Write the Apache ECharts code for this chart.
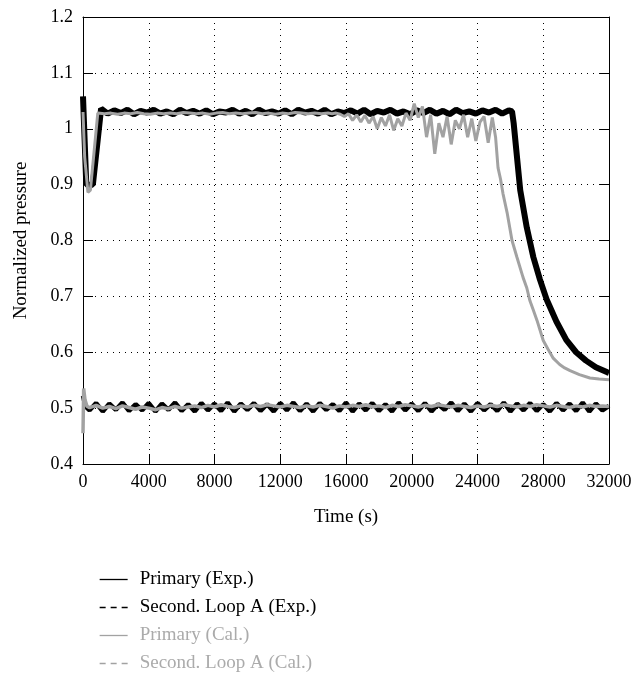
<!DOCTYPE html>
<html>
<head>
<meta charset="utf-8">
<script src="https://cdn.jsdelivr.net/npm/echarts@6/dist/echarts.min.js"></script>
<style>
html,body{margin:0;padding:0;background:#fff;}
#chart{width:643px;height:673px;}
</style>
</head>
<body>
<div id="chart"></div>
<script>
// ---- data ----
var seriesNames = ['Primary (Exp.)', 'Second. Loop A (Exp.)', 'Primary (Cal.)', 'Second. Loop A (Cal.)'];

var primExpT = [0, 200, 600, 1100,
  1500,1900,2300,2700,3100,3500,3900,4300,4700,5100,5500,5900,6300,6700,7100,7500,7900,8300,8700,9100,9500,9900,10300,10700,11100,11500,11900,12300,12700,13100,13500,13900,14300,14700,15100,15500,15900,16300,16700,17100,17500,17900,18300,18700,19100,19500,19900,20300,20700,21100,21500,21900,22300,22700,23100,23500,23900,24300,24700,25100,25500,25900,
  26100,26200,26600,27000,27400,27800,28200,28800,29400,30000,30600,31200,31900,32000];
var primExpV = [1.058, 0.900, 0.900, 1.036,
  1.027,1.033,1.028,1.034,1.026,1.032,1.029,1.034,1.027,1.031,
  1.026,1.034,1.028,1.032,1.027,1.033,1.026,1.031,1.029,1.034,
  1.027,1.032,1.026,1.034,1.028,1.031,1.027,1.033,1.026,1.034,
  1.029,1.032,1.027,1.034,1.026,1.031,1.028,1.033,1.027,1.034,
  1.026,1.032,1.029,1.034,1.027,1.031,1.026,1.033,1.028,1.034,
  1.027,1.032,1.026,1.034,1.028,1.031,1.027,1.033,1.029,1.034,
  1.027,1.033,
  1.031,1.010,0.890,0.823,0.770,0.730,0.695,0.655,0.622,0.600,0.585,0.573,0.564,0.563];

var loopExpT = [0,150,400,800,1200,1600,2000,2400,2800,3200,3600,4000,4400,4800,5200,5600,6000,6400,6800,7200,7600,8000,8400,8800,9200,9600,10000,10400,10800,11200,11600,12000,12400,12800,13200,13600,14000,14400,14800,15200,15600,16000,16400,16800,17200,17600,18000,18400,18800,19200,19600,20000,20400,20800,21200,21600,22000,22400,22800,23200,23600,24000,24400,24800,25200,25600,26000,26400,26800,27200,27600,28000,28400,28800,29200,29600,30000,30400,30800,31200,31600,32000];
var loopExpV = [0.522,0.503,
  0.496,0.509,0.494,0.508,0.497,0.510,0.495,0.507,0.496,0.509,
  0.494,0.508,0.497,0.510,0.495,0.507,0.494,0.509,0.496,0.508,
  0.495,0.510,0.494,0.508,0.497,0.509,0.495,0.507,0.494,0.509,
  0.496,0.510,0.495,0.508,0.494,0.509,0.497,0.507,0.495,0.510,
  0.494,0.508,0.496,0.509,0.495,0.507,0.494,0.510,0.496,0.508,
  0.495,0.509,0.494,0.507,0.497,0.510,0.495,0.508,0.494,0.509,
  0.496,0.507,0.495,0.510,0.494,0.508,0.496,0.509,0.495,0.507,
  0.494,0.509,0.496,0.508,0.495,0.510,0.494,0.508,0.496,0.504];

var primCalT = [0,100,300,450,900,
  1300,1700,2100,2500,2900,3300,3700,4100,4500,4900,5300,5700,6100,6500,6900,7300,7700,8100,8500,8900,9300,9700,10100,10500,10900,11300,11700,12100,12500,12900,13300,13700,14100,14500,14900,
  15150,15400,15650,15900,16150,16400,16650,16900,17150,17400,17650,17900,18150,18400,18650,18900,19150,19400,19650,19900,20150,20400,20650,20900,21150,21400,21650,21900,22150,22400,22650,22900,23150,23400,23650,23900,24150,24400,24650,24900,
  25100,25250,25400,25550,25800,26100,26400,26770,27000,27190,27400,27620,28000,28300,28590,29000,29300,29630,30200,30840,31400,32000];
var primCalV = [1.030,0.950,0.886,0.890,1.028,
  1.027,1.028,1.026,1.028,1.027,1.029,1.027,1.026,1.028,1.027,
  1.028,1.027,1.029,1.028,1.027,1.028,1.026,1.028,1.029,1.027,
  1.028,1.027,1.028,1.029,1.027,1.028,1.026,1.028,1.027,1.029,
  1.028,1.027,1.028,1.027,1.028,
  1.027,1.028,1.026,1.022,1.027,1.015,1.025,1.012,1.024,1.010,
  1.022,1.000,1.020,1.005,1.025,0.997,1.018,1.005,1.028,1.015,
  1.045,1.020,1.040,0.985,1.025,0.955,1.010,0.985,1.022,0.972,
  1.015,1.000,1.025,0.985,1.018,0.978,1.012,1.022,0.975,1.020,
  0.985,0.930,0.910,0.884,0.850,0.800,0.770,0.734,0.715,0.692,0.675,0.657,0.621,0.605,0.590,0.578,0.572,0.567,0.560,0.554,0.552,0.551];

var loopCalT = [0,40,120,250,400,800,1200,1600,2000,2400,2800,3200,3600,4000,4400,4800,5200,5600,6000,6400,6800,7200,7600,8000,8400,8800,9200,9600,10000,10400,10800,11200,11600,12000,12400,12800,13200,13600,14000,14400,14800,15200,15600,16000,16400,16800,17200,17600,18000,18400,18800,19200,19600,20000,20400,20800,21200,21600,22000,22400,22800,23200,23600,24000,24400,24800,25200,25600,26000,26400,26800,27200,27600,28000,28400,28800,29200,29600,30000,30400,30800,31200,31600,32000];
var loopCalV = [0.455,0.535,0.515,0.503,
  0.501,0.505,0.500,0.503,0.499,0.504,0.501,0.498,0.502,0.500,
  0.497,0.501,0.499,0.503,0.500,0.502,0.504,0.501,0.505,0.502,
  0.506,0.503,0.501,0.504,0.502,0.505,0.503,0.506,0.504,0.502,
  0.505,0.503,0.501,0.504,0.502,0.505,0.503,0.500,0.504,0.502,
  0.505,0.503,0.506,0.502,0.504,0.501,0.505,0.503,0.506,0.504,
  0.502,0.505,0.503,0.506,0.504,0.502,0.505,0.503,0.501,0.504,
  0.502,0.505,0.503,0.506,0.504,0.502,0.505,0.503,0.506,0.504,
  0.502,0.505,0.503,0.501,0.504,0.502,0.505,0.503,0.504,0.503];

var xTicks = {min: 0, max: 32000, interval: 4000};
var yTicks = {min: 0.4, max: 1.2, interval: 0.1};

// ---- build chart ----
function zip(t, v) { return t.map(function (x, i) { return [x, v[i]]; }); }

var FONT = 'Liberation Serif';
var BLACK = '#000000';
var GRAY = '#a2a2a2';
var dotted = {color: '#000', width: 1, type: [1, 5]};

var chart = echarts.init(document.getElementById('chart'), null, {renderer: 'canvas'});

var option = {
  animation: false,
  backgroundColor: '#fff',
  grid: {left: 83, right: 34, top: 17, bottom: 209},
  xAxis: [{
    type: 'value', min: xTicks.min, max: xTicks.max, interval: xTicks.interval,
    name: 'Time (s)', nameLocation: 'middle', nameGap: 44,
    nameTextStyle: {fontFamily: FONT, fontSize: 19, color: '#000'},
    axisLine: {show: true, onZero: false, lineStyle: {color: '#000', width: 1}},
    axisTick: {show: true, inside: true, length: 10, lineStyle: {color: '#000'}},
    axisLabel: {fontFamily: FONT, fontSize: 18, color: '#000', margin: 9,
      formatter: function (v) { return String(v); }},
    splitLine: {show: true, lineStyle: dotted}
  }, {
    type: 'value', position: 'top', min: xTicks.min, max: xTicks.max, interval: xTicks.interval,
    axisLine: {show: true, onZero: false, lineStyle: {color: '#000', width: 1}},
    axisTick: {show: false}, axisLabel: {show: false}, splitLine: {show: false}
  }],
  yAxis: [{
    type: 'value', min: yTicks.min, max: yTicks.max, interval: yTicks.interval,
    name: 'Normalized pressure', nameLocation: 'middle', nameGap: 52,
    nameTextStyle: {fontFamily: FONT, fontSize: 19, color: '#000'},
    axisLine: {show: true, onZero: false, lineStyle: {color: '#000', width: 1}},
    axisTick: {show: true, inside: true, length: 10, lineStyle: {color: '#000'}},
    axisLabel: {fontFamily: FONT, fontSize: 18, color: '#000', margin: 10},
    splitLine: {show: true, lineStyle: dotted}
  }, {
    type: 'value', position: 'right', min: yTicks.min, max: yTicks.max, interval: yTicks.interval,
    axisLine: {show: true, onZero: false, lineStyle: {color: '#000', width: 1}},
    axisTick: {show: true, inside: true, length: 10, lineStyle: {color: '#000'}},
    axisLabel: {show: false}, splitLine: {show: false}
  }],
  legend: {
    orient: 'vertical', left: 99, top: 570, padding: 0, height: 300,
    itemWidth: 28, itemHeight: 14, itemGap: 9,
    itemStyle: {opacity: 0},
    lineStyle: {width: 1.3},
    textStyle: {fontFamily: FONT, fontSize: 19, lineHeight: 18, padding: [0, 0, 0, 7]},
    data: [
      {name: seriesNames[0], textStyle: {color: BLACK}},
      {name: seriesNames[1], textStyle: {color: BLACK}, lineStyle: {type: [6, 5], width: 1.3}},
      {name: seriesNames[2], textStyle: {color: '#ababab'}},
      {name: seriesNames[3], textStyle: {color: '#ababab'}, lineStyle: {type: [6, 5], width: 1.3}}
    ]
  },
  series: [
    {name: seriesNames[0], type: 'line', symbol: 'none', data: zip(primExpT, primExpV),
     lineStyle: {color: BLACK, width: 6}, itemStyle: {color: BLACK}},
    {name: seriesNames[1], type: 'line', symbol: 'none', data: zip(loopExpT, loopExpV),
     lineStyle: {color: BLACK, width: 4.5}, itemStyle: {color: BLACK}},
    {name: seriesNames[2], type: 'line', symbol: 'none', data: zip(primCalT, primCalV),
     lineStyle: {color: GRAY, width: 3}, itemStyle: {color: GRAY}},
    {name: seriesNames[3], type: 'line', symbol: 'none', data: zip(loopCalT, loopCalV),
     lineStyle: {color: GRAY, width: 3.5}, itemStyle: {color: GRAY}}
  ]
};
chart.setOption(option);
</script>
</body>
</html>
